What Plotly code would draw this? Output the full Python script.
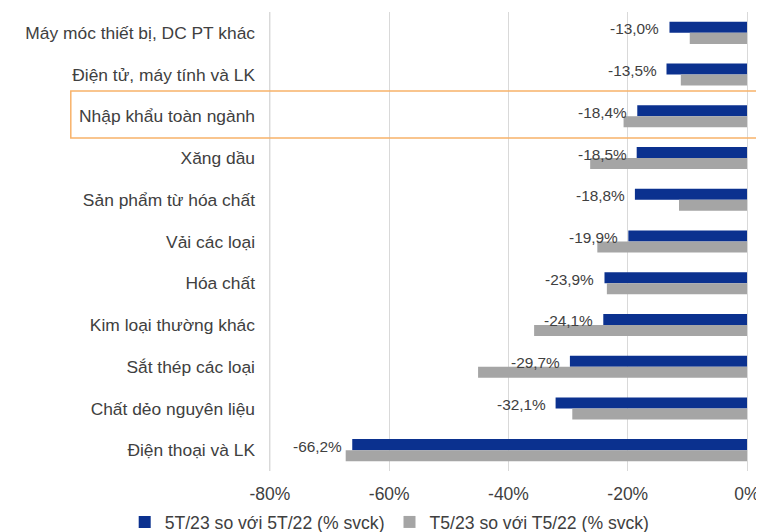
import plotly.graph_objects as go

categories = [
    "Máy móc thiết bị, DC PT khác",
    "Điện tử, máy tính và LK",
    "Nhập khẩu toàn ngành",
    "Xăng dầu",
    "Sản phẩm từ hóa chất",
    "Vải các loại",
    "Hóa chất",
    "Kim loại thường khác",
    "Sắt thép các loại",
    "Chất dẻo nguyên liệu",
    "Điện thoại và LK",
]
ytd_2023 = [-13.0, -13.5, -18.4, -18.5, -18.8, -19.9, -23.9, -24.1, -29.7, -32.1, -66.2]
may_2023 = [-9.6, -11.1, -20.7, -26.3, -11.4, -25.1, -23.5, -35.7, -45.1, -29.3, -67.3]
ytd_labels = ["-13,0%", "-13,5%", "-18,4%", "-18,5%", "-18,8%", "-19,9%",
              "-23,9%", "-24,1%", "-29,7%", "-32,1%", "-66,2%"]
series_names = ["5T/23 so với 5T/22 (% svck)", "T5/23 so với T5/22 (% svck)"]
tick_vals = [-80, -60, -40, -20, 0]
tick_text = ["-80%", "-60%", "-40%", "-20%", "0%"]

FONT = "Liberation Sans, Arial, sans-serif"
TEXT = "#404040"
GRID = "#D9D9D9"

fig = go.Figure()
fig.add_trace(go.Bar(
    y=categories, x=ytd_2023, orientation="h", name=series_names[0],
    marker=dict(color="#0B318F", line=dict(width=0)),
))
fig.add_trace(go.Bar(
    y=categories, x=may_2023, orientation="h", name=series_names[1],
    marker=dict(color="#A5A5A5", line=dict(width=0)),
))

for cat, v, lab in zip(categories, ytd_2023, ytd_labels):
    fig.add_annotation(
        x=v, y=cat, xref="x", yref="y", text=lab, showarrow=False,
        xanchor="right", yanchor="middle", xshift=-8, yshift=4,
        font=dict(family=FONT, size=15.4, color=TEXT),
    )

# leftmost gridline (plotly omits it near the edge)
fig.add_vline(x=tick_vals[0], line=dict(color=GRID, width=1), layer="below")

# highlight box around the total row (decoration)
fig.add_shape(
    type="rect", xref="paper", yref="paper",
    x0=-0.400, x1=1.1, y0=0.7255, y1=0.8279,
    line=dict(color="#F8B26A", width=1.5), fillcolor="rgba(0,0,0,0)",
    layer="above",
)

fig.update_layout(
    width=764, height=532,
    margin=dict(l=256, r=25, t=4, b=69, autoexpand=False),
    paper_bgcolor="white", plot_bgcolor="white",
    barmode="group", bargap=0.472, bargroupgap=0,
    font=dict(family=FONT, size=17.4, color=TEXT),
    showlegend=True,
    legend=dict(
        orientation="h", xref="paper", yref="paper",
        x=-0.2884, xanchor="left", y=-0.0719, yanchor="top",
        font=dict(family=FONT, size=17.6, color=TEXT),
        bgcolor="rgba(0,0,0,0)", traceorder="normal",
    ),
    xaxis=dict(
        range=[-81, 0], tickvals=tick_vals, ticktext=tick_text,
        showgrid=True, gridcolor=GRID, gridwidth=1,
        zeroline=True, zerolinecolor=GRID, zerolinewidth=1,
        showline=False, ticks="", ticklabelstandoff=10, automargin=False,
        tickfont=dict(family=FONT, size=17.5, color=TEXT),
        fixedrange=True,
    ),
    yaxis=dict(
        autorange="reversed", type="category",
        showgrid=False, zeroline=False, showline=False, ticks="",
        ticklabelstandoff=8, automargin=False,
        tickfont=dict(family=FONT, size=17.4, color=TEXT),
        fixedrange=True,
    ),
)

fig.write_html("out.html")
